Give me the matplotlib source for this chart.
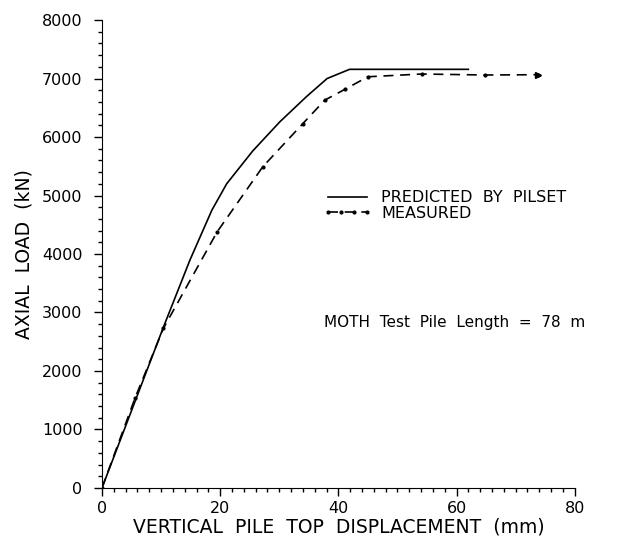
import matplotlib.pyplot as plt
from matplotlib.ticker import MultipleLocator

# predicted by PILSET (solid)
pred_x = [0, 10.4, 14.9, 18.6, 21.1, 25.5, 30.1, 34.6, 38.1, 41.9, 62.0]
pred_y = [0, 2750, 3900, 4750, 5200, 5760, 6260, 6690, 7000, 7157, 7157]

# measured (dashed with dots)
meas_x = [0, 5.6, 10.4, 19.5, 27.2, 34.0, 37.7, 41.1, 45.0, 54.1, 64.8, 73.8]
meas_y = [0, 1540, 2730, 4380, 5490, 6230, 6630, 6815, 7030, 7077, 7060, 7065]

fig = plt.figure(figsize=(6.18, 5.41), dpi=100)
ax = fig.add_axes([0.165, 0.098, 0.765, 0.865])

ax.plot(pred_x, pred_y, color='black', lw=1.2, label='PREDICTED  BY  PILSET')
ax.plot(meas_x, meas_y, color='black', lw=1.2, ls=(0, (6, 4)),
        marker='o', ms=2, label='MEASURED')
ax.plot(meas_x[-1], meas_y[-1], color='black', marker='>', ms=4)

ax.set_xlim(0, 80)
ax.set_ylim(0, 8000)
ax.xaxis.set_major_locator(MultipleLocator(20))
ax.xaxis.set_minor_locator(MultipleLocator(2))
ax.yaxis.set_major_locator(MultipleLocator(1000))
ax.yaxis.set_minor_locator(MultipleLocator(200))
ax.tick_params(which='major', direction='out', length=6, width=1, labelsize=11.5)
ax.tick_params(axis='y', which='major', pad=8)
ax.tick_params(which='minor', direction='out', length=3, width=1)
ax.spines['top'].set_visible(False)
ax.spines['right'].set_visible(False)

ax.set_xlabel('VERTICAL  PILE  TOP  DISPLACEMENT  (mm)', fontsize=13.5, labelpad=1)
ax.set_ylabel('AXIAL  LOAD  (kN)', fontsize=13.5, labelpad=6)

ax.legend(loc='upper left', bbox_to_anchor=(0.455, 0.65), frameon=False,
          fontsize=11.5, handlelength=3, numpoints=4, labelspacing=0.05,
          handletextpad=0.6, borderaxespad=0)

ax.text(0.47, 0.345, 'MOTH  Test  Pile  Length  =  78  m', transform=ax.transAxes,
        fontsize=11)

fig.savefig('out.png', dpi=100)
